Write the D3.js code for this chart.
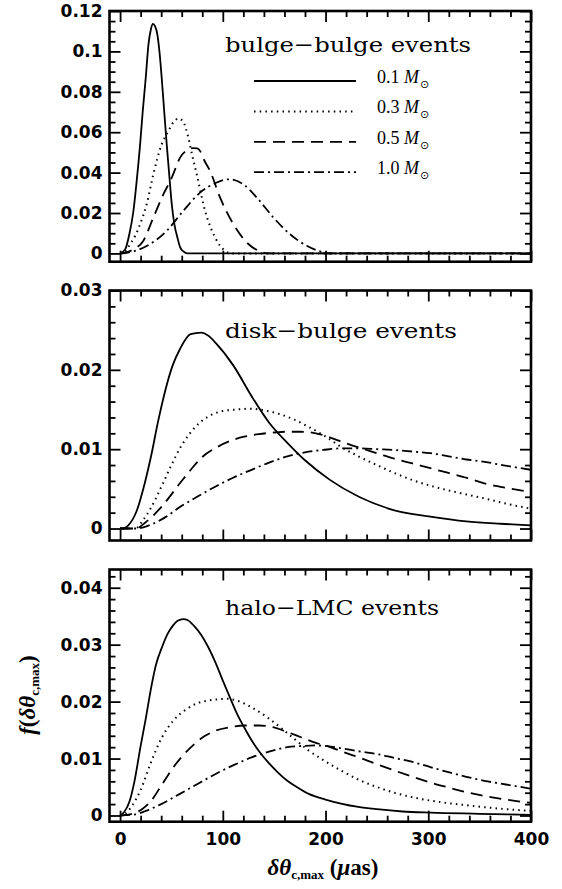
<!DOCTYPE html>
<html>
<head>
<meta charset="utf-8">
<script src="https://cdn.jsdelivr.net/npm/d3@7"></script>
<style>
  body { margin: 0; background: #fff; }
  .tick text { font-family: "DejaVu Sans", sans-serif; font-weight: bold; font-size: 17px; fill: #000; }
</style>
</head>
<body>
<svg id="chart" width="562" height="889"></svg>
<script>
// x ticks shared by all panels
const xTicks = [0, 100, 200, 300, 400];
const massLabels = ["0.1", "0.3", "0.5", "1.0"];

// bulge-bulge events: [delta theta (uas), f]
const bb01 = [[0,0],[5,0.002],[9,0.0095],[13,0.021],[16,0.035],[19.5,0.054],[22,0.07],[25,0.087],[27.6,0.1034],[30,0.111],[32,0.1136],[34,0.1125],[36.3,0.1083],[38.5,0.099],[40.5,0.087],[43,0.07],[45.4,0.054],[48,0.038],[50.3,0.0244],[53,0.014],[55.8,0.0079],[58.5,0.003],[61.6,0.001],[65.5,0],[400,0]];
const bb03 = [[0,0],[4,0.0005],[9.7,0.0046],[15,0.009],[19.5,0.0145],[25.9,0.0244],[32.4,0.0392],[40.5,0.054],[47,0.0606],[52,0.065],[56.8,0.0668],[61,0.0655],[66.5,0.0573],[70,0.049],[74.6,0.0392],[82.7,0.0211],[92.5,0.0079],[97,0.004],[102.2,0.0013],[108.7,0],[400,0]];
const bb05 = [[0,0],[5,0.0004],[13,0.002],[22.7,0.0063],[32.4,0.0178],[42.2,0.0293],[50.3,0.0375],[58.4,0.0474],[66.5,0.0515],[71,0.0521],[75,0.052],[77.9,0.0507],[82,0.046],[87.6,0.0408],[97.3,0.0277],[110.3,0.0145],[123.3,0.0054],[136.3,0.001],[143,0],[400,0]];
const bb10 = [[0,0],[5,0.0002],[13,0.001],[29.2,0.0046],[45.4,0.0112],[61.6,0.0211],[77.9,0.0301],[94.1,0.0351],[106,0.0367],[120,0.0342],[133,0.0277],[149.2,0.0178],[165.4,0.0095],[181.7,0.0038],[194.6,0.001],[205,0],[400,0]];

// disk-bulge events
const db01 = [[0,0],[3,0],[8,0.0004],[16.4,0.0023],[23,0.0052],[30.3,0.0092],[37,0.0135],[44.2,0.0175],[51,0.0205],[58.2,0.0226],[68.6,0.0245],[79,0.0247],[86,0.0243],[93,0.0234],[110.5,0.0205],[127.9,0.0167],[145.3,0.0133],[162.8,0.0108],[180,0.0086],[204.6,0.0061],[232.5,0.004],[267,0.0023],[302,0.0015],[337,0.0009],[370,0.0006],[400,0.0004]];
const db03 = [[0,0],[15,0],[22,0.001],[30,0.0026],[40.7,0.0054],[50,0.008],[58.2,0.0101],[68,0.012],[79,0.0135],[90,0.0144],[100,0.0148],[113,0.015],[127.9,0.0151],[140,0.0149],[155.8,0.0144],[170,0.0137],[183.7,0.0128],[200,0.0116],[215,0.0103],[232,0.0091],[249.9,0.008],[267,0.007],[284.7,0.0061],[302,0.0054],[319.7,0.0048],[337,0.0043],[354.6,0.0038],[377,0.0031],[400,0.0025]];
const db05 = [[0,0],[15,0],[25,0.0008],[40.7,0.0028],[58.2,0.0057],[70,0.0076],[79,0.0089],[95,0.0103],[110.5,0.0112],[122,0.0116],[135,0.0119],[150,0.0121],[162.8,0.0122],[176,0.0122],[190.6,0.012],[204,0.0115],[218.5,0.0108],[235,0.0101],[250,0.0095],[267,0.0088],[284.7,0.0082],[302,0.0076],[319.7,0.007],[337,0.0064],[354.6,0.0057],[377,0.0051],[400,0.0046]];
const db10 = [[0,0],[15,0],[30,0.0005],[45,0.0015],[58.2,0.0027],[75,0.004],[93,0.0053],[110,0.0064],[128,0.0074],[145,0.0083],[162.8,0.0091],[180,0.0096],[197.6,0.0099],[215,0.0101],[232.5,0.0101],[250,0.01],[267,0.0099],[285,0.0097],[302,0.0095],[320,0.0091],[337,0.0087],[355,0.0084],[372,0.008],[400,0.0074]];

// halo-LMC events
const hl01 = [[0,0],[4,0.0006],[9.4,0.0026],[14,0.006],[19.8,0.012],[25,0.017],[30.3,0.0225],[35,0.0265],[40.7,0.0295],[46,0.0318],[51.2,0.0333],[56,0.0342],[61.6,0.0345],[66,0.0343],[72,0.0333],[79,0.0317],[86,0.0295],[93,0.0268],[100,0.0237],[107,0.0207],[114,0.0178],[121,0.0154],[128,0.0132],[136,0.0111],[145.3,0.0091],[154,0.0075],[162.8,0.0061],[173,0.0049],[183.7,0.0038],[200,0.0028],[215,0.0021],[232,0.0015],[250,0.0011],[275,0.0007],[302,0.0005],[350,0.0003],[400,0.0001]];
const hl03 = [[0,0],[5,0.0003],[12,0.0018],[19.8,0.0044],[30,0.0093],[40.7,0.0137],[52,0.0167],[65,0.0187],[75,0.0197],[86,0.0202],[95,0.0204],[103.5,0.0205],[115,0.0201],[128,0.019],[142,0.0174],[155.8,0.0155],[170,0.0134],[183.7,0.0114],[200,0.0095],[215,0.0079],[232,0.0063],[250,0.005],[267,0.004],[284.7,0.0032],[310,0.0024],[337,0.0018],[370,0.0012],[400,0.0008]];
const hl05 = [[0,0],[15,0.0005],[22,0.0012],[30.3,0.0026],[40,0.0052],[51.2,0.0083],[62,0.0107],[72,0.0125],[82,0.0139],[93,0.0149],[107,0.0155],[121,0.0158],[135,0.0158],[148.8,0.0155],[162,0.0147],[176.7,0.0137],[190,0.0128],[204.6,0.012],[218,0.0111],[232.5,0.0102],[250,0.009],[267,0.0079],[284.7,0.0068],[302,0.0058],[320,0.0049],[337,0.0041],[355,0.0034],[372,0.0029],[400,0.0022]];
const hl10 = [[0,0],[15,0.0002],[25,0.0008],[40,0.002],[58.2,0.0038],[75,0.0055],[93,0.0073],[110,0.0088],[128,0.0102],[145,0.0112],[162.8,0.012],[176,0.0122],[190.6,0.0123],[205,0.0121],[218.5,0.0117],[235,0.0112],[250,0.0108],[267,0.0101],[284.7,0.0094],[302,0.0085],[319.7,0.0076],[337,0.0068],[354.6,0.0061],[377,0.0054],[400,0.0047]];

const bbYTicks = [0, 0.02, 0.04, 0.06, 0.08, 0.1, 0.12];
const dbYTicks = [0, 0.01, 0.02, 0.03];
const hlYTicks = [0, 0.01, 0.02, 0.03, 0.04];

const dashes = [null, "1.5,4.2", "12,7", "10,4,2,4"];

const panels = [
  { title: "bulge\u2212bulge events", titleLen: 246, titleY: 52, top: 11, bottom: 261.7,
    yDomain: [-0.0041, 0.12], yTicks: bbYTicks, yMinor: 0.005, series: [bb01, bb03, bb05, bb10], legend: true },
  { title: "disk\u2212bulge events", titleLen: 232, titleY: 338, top: 290.5, bottom: 540.5,
    yDomain: [-0.00151, 0.03], yTicks: dbYTicks, yMinor: 0.002, series: [db01, db03, db05, db10] },
  { title: "halo\u2212LMC events", titleLen: 214, titleY: 615, top: 569.5, bottom: 821.7,
    yDomain: [-0.00109, 0.0432], yTicks: hlYTicks, yMinor: 0.002, series: [hl01, hl03, hl05, hl10], xLabels: true }
];

const svg = d3.select("#chart");
const left = 109.5, right = 531;
const x = d3.scaleLinear().domain([-10.3, 400]).range([left, right]);
const xMinor = d3.range(0, 401, 20).filter(v => v % 100 !== 0);

panels.forEach((p, i) => {
  const y = d3.scaleLinear().domain(p.yDomain).range([p.bottom, p.top]);
  const yMinor = d3.range(0, p.yDomain[1] + 1e-9, p.yMinor)
    .filter(v => !p.yTicks.some(t => Math.abs(t - v) < 1e-9));
  const g = svg.append("g");

  const axes = [
    [d3.axisLeft(y).tickValues(p.yTicks).tickSize(-11).tickPadding(7).tickFormat(d => String(d)), `translate(${left},0)`],
    [d3.axisLeft(y).tickValues(yMinor).tickSize(-6).tickFormat(""), `translate(${left},0)`],
    [d3.axisRight(y).tickValues(p.yTicks).tickSize(-11).tickFormat(""), `translate(${right},0)`],
    [d3.axisRight(y).tickValues(yMinor).tickSize(-6).tickFormat(""), `translate(${right},0)`],
    [d3.axisTop(x).tickValues(xTicks).tickSize(-11).tickFormat(""), `translate(0,${p.top})`],
    [d3.axisTop(x).tickValues(xMinor).tickSize(-6).tickFormat(""), `translate(0,${p.top})`],
    [d3.axisBottom(x).tickValues(xTicks).tickSize(-11).tickPadding(11).tickFormat(p.xLabels ? d => String(d) : ""), `translate(0,${p.bottom})`],
    [d3.axisBottom(x).tickValues(xMinor).tickSize(-6).tickFormat(""), `translate(0,${p.bottom})`]
  ];
  axes.forEach(([ax, tr]) => {
    const a = g.append("g").attr("transform", tr).call(ax);
    a.select(".domain").remove();
    a.selectAll(".tick line").attr("stroke-width", 1.8);
  });

  g.append("clipPath").attr("id", "clip" + i)
    .append("rect").attr("x", left).attr("y", p.top).attr("width", right - left).attr("height", p.bottom - p.top);

  const line = d3.line().x(d => x(d[0])).y(d => y(d[1])).curve(d3.curveMonotoneX);
  p.series.forEach((s, k) => {
    g.append("path")
      .attr("d", line(s))
      .attr("clip-path", `url(#clip${i})`)
      .attr("fill", "none")
      .attr("stroke", "#000")
      .attr("stroke-width", k === 1 ? 2 : 1.8)
      .attr("stroke-dasharray", dashes[k]);
  });

  g.append("rect")
    .attr("x", left).attr("y", p.top)
    .attr("width", right - left).attr("height", p.bottom - p.top)
    .attr("fill", "none").attr("stroke", "#000").attr("stroke-width", 2.6);

  g.append("text")
    .attr("x", 225).attr("y", p.titleY)
    .attr("textLength", p.titleLen).attr("lengthAdjust", "spacingAndGlyphs")
    .style("font-family", "'DejaVu Serif', serif").style("font-size", "21px")
    .text(p.title);

  if (p.legend) {
    massLabels.forEach((m, k) => {
      const ly = 81 + k * 30.4;
      g.append("line")
        .attr("x1", 254).attr("x2", 356).attr("y1", ly).attr("y2", ly)
        .attr("stroke", "#000").attr("stroke-width", k === 1 ? 2 : 1.8)
        .attr("stroke-dasharray", dashes[k]);
      const t = g.append("text")
        .attr("x", 377).attr("y", ly + 2)
        .style("font-family", "'Liberation Serif', serif").style("font-size", "18px");
      t.append("tspan").text(m + " ");
      t.append("tspan").style("font-style", "italic").text("M");
      t.append("tspan").attr("dy", 5).attr("dx", 1)
        .style("font-family", "'DejaVu Sans', sans-serif").style("font-size", "11px").text("\u2299");
    });
  }
});

// axis titles
const labelFont = "'Liberation Serif', 'DejaVu Serif', serif";
const xl = svg.append("text")
  .attr("x", 323).attr("y", 875).attr("text-anchor", "middle")
  .style("font-family", labelFont).style("font-size", "23px").style("font-weight", "bold");
xl.append("tspan").style("font-style", "italic").text("\u03b4\u03b8");
xl.append("tspan").attr("dy", 4).style("font-size", "13px").text("c,max");
xl.append("tspan").attr("dy", -4).text(" (");
xl.append("tspan").style("font-style", "italic").text("\u03bc");
xl.append("tspan").text("as)");

const yl = svg.append("text")
  .attr("transform", "translate(35,695) rotate(-90)").attr("text-anchor", "middle")
  .style("font-family", labelFont).style("font-size", "23px").style("font-weight", "bold");
yl.append("tspan").style("font-style", "italic").text("f");
yl.append("tspan").text("(");
yl.append("tspan").style("font-style", "italic").text("\u03b4\u03b8");
yl.append("tspan").attr("dy", 4).style("font-size", "13px").text("c,max");
yl.append("tspan").attr("dy", -4).text(")");
</script>
</body>
</html>
